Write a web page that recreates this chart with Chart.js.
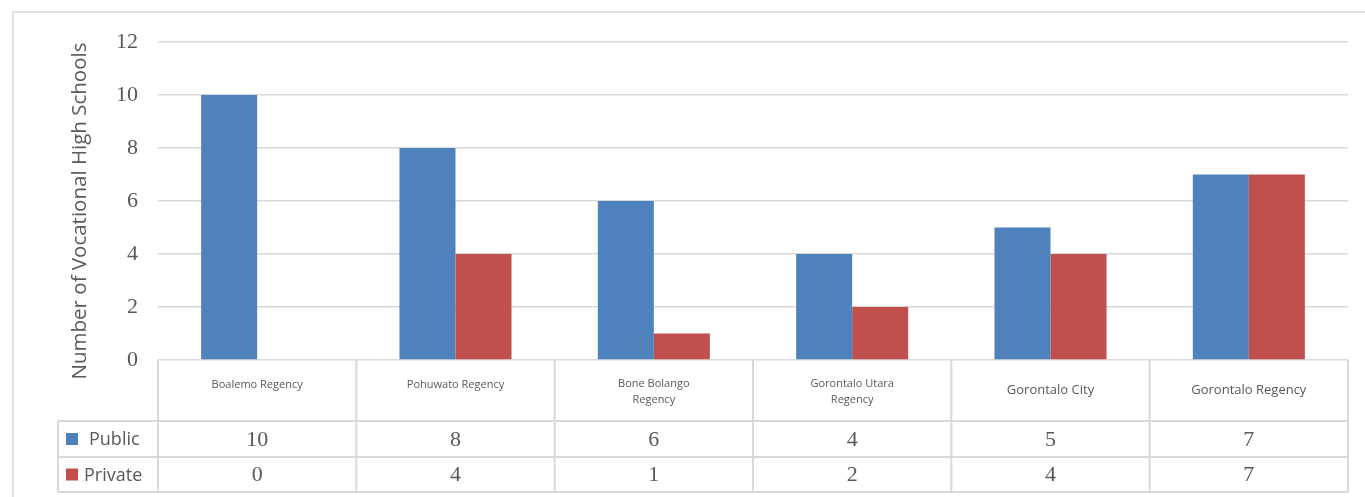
<!DOCTYPE html>
<html>
<head>
<meta charset="utf-8">
<script src="https://cdn.jsdelivr.net/npm/chart.js@4"></script>
<style>
  html, body { margin: 0; padding: 0; background: #fff; }
  #wrap { width: 1365px; height: 497px; }
</style>
</head>
<body>
<div id="wrap"><canvas id="bar-chart"></canvas></div>
<script>
const categories = [
  ["Boalemo Regency"],
  ["Pohuwato Regency"],
  ["Bone Bolango", "Regency"],
  ["Gorontalo Utara", "Regency"],
  ["Gorontalo City"],
  ["Gorontalo Regency"]
];
const seriesNames = ["Public", "Private"];
const publicSchools = [10, 8, 6, 4, 5, 7];
const privateSchools = [0, 4, 1, 2, 4, 7];
const yTicks = [0, 2, 4, 6, 8, 10, 12];
const yTitle = "Number of Vocational High Schools";

const gridColor = "#d9d9d9";
const textColor = "#595959";
const labelSizes = [11, 11, 11, 11, 13, 13];

// outer frame round the whole chart, plus the y axis title
const frame = {
  id: "frame",
  beforeDraw(chart) {
    const ctx = chart.ctx;
    ctx.save();
    ctx.fillStyle = "#fff";
    ctx.fillRect(0, 0, chart.width, chart.height);
    ctx.strokeStyle = gridColor;
    ctx.lineWidth = 1.5;
    ctx.strokeRect(13, 12, chart.width, chart.height);

    ctx.translate(80, 211);
    ctx.rotate(-Math.PI / 2);
    ctx.fillStyle = textColor;
    ctx.font = "20.5px 'Open Sans'";
    ctx.textAlign = "center";
    ctx.textBaseline = "middle";
    ctx.fillText(yTitle, 0, 0);
    ctx.restore();
  }
};

// Excel style data table under the plot
const dataTable = {
  id: "dataTable",
  afterDraw(chart) {
    const { ctx, chartArea: area, scales: { x } } = chart;
    const n = categories.length;
    const colW = (area.right - area.left) / n;
    const top = area.bottom;
    const headBottom = top + 61;
    const row1 = headBottom + 36;
    const row2 = row1 + 35;
    const legendLeft = 58;

    ctx.save();
    ctx.strokeStyle = gridColor;
    ctx.lineWidth = 2;
    ctx.beginPath();
    [headBottom, row1, row2].forEach((y) => {
      ctx.moveTo(legendLeft, y);
      ctx.lineTo(area.right, y);
    });
    ctx.moveTo(legendLeft, headBottom);
    ctx.lineTo(legendLeft, row2);
    for (let i = 0; i <= n; i++) {
      const xx = x.getPixelForValue(0) - colW / 2 + i * colW;
      ctx.moveTo(xx, top);
      ctx.lineTo(xx, row2);
    }
    ctx.stroke();

    ctx.fillStyle = textColor;
    ctx.textAlign = "center";
    ctx.textBaseline = "middle";
    categories.forEach((lines, i) => {
      const cx = x.getPixelForValue(i);
      const size = labelSizes[i];
      ctx.font = size + "px 'Open Sans'";
      const lh = size * 1.45;
      const mid = lines.length > 1 ? (top + headBottom) / 2 + 1 : (size > 11 ? (top + headBottom) / 2 : top + 25);
      lines.forEach((line, k) => {
        ctx.fillText(line, cx, mid + (k - (lines.length - 1) / 2) * lh);
      });
    });

    const rows = [
      { y: (headBottom + row1) / 2, values: publicSchools },
      { y: (row1 + row2) / 2, values: privateSchools }
    ];
    rows.forEach((row, r) => {
      ctx.font = "22px 'Liberation Serif'";
      ctx.fillStyle = textColor;
      ctx.textAlign = "center";
      row.values.forEach((v, i) => {
        ctx.fillText(String(v), x.getPixelForValue(i), row.y + 1);
      });
      ctx.fillStyle = chart.data.datasets[r].backgroundColor;
      ctx.fillRect(66, row.y - 6, 12, 12);
      ctx.fillStyle = textColor;
      ctx.font = "18px 'Open Sans'";
      ctx.textAlign = "left";
      ctx.fillText(seriesNames[r], r === 0 ? 89 : 84, row.y + 1);
    });
    ctx.restore();
  }
};

const ctx = document.getElementById("bar-chart").getContext("2d");

new Chart(ctx, {
  type: "bar",
  data: {
    labels: categories.map((c) => c.join(" ")),
    datasets: [
      {
        label: seriesNames[0],
        data: publicSchools,
        backgroundColor: "#4f81bd"
      },
      {
        label: seriesNames[1],
        data: privateSchools,
        backgroundColor: "#c0504d"
      }
    ]
  },
  options: {
    responsive: true,
    maintainAspectRatio: false,
    animation: false,
    layout: {
      padding: { left: 13, top: 42, right: 17, bottom: 137 }
    },
    datasets: {
      bar: { categoryPercentage: 0.565, barPercentage: 1 }
    },
    scales: {
      x: {
        display: false
      },
      y: {
        min: 0,
        max: 12,
        afterBuildTicks(scale) {
          scale.ticks = yTicks.map((v) => ({ value: v }));
        },
        afterFit(scale) {
          scale.width = 145;
        },
        ticks: {
          color: textColor,
          padding: 20,
          font: { family: "Liberation Serif", size: 22 }
        },
        grid: { color: gridColor, lineWidth: 1.5, drawTicks: false },
        border: { display: false }
      }
    },
    plugins: {
      legend: { display: false },
      tooltip: { enabled: false }
    }
  },
  plugins: [frame, dataTable]
});
</script>
</body>
</html>
